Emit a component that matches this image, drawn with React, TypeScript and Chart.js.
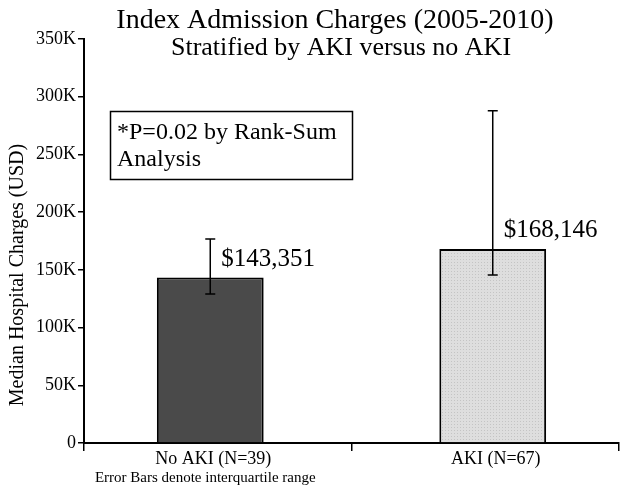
import React, { useEffect, useRef } from "react";
import { Chart, registerables } from "chart.js";

Chart.register(...registerables);

const categories = ["No AKI (N=39)", "AKI (N=67)"];
const medians = [143351, 168146];
const q1Values = [129000, 145500];
const q3Values = [176700, 287900];
const yTickValues = [0, 50000, 100000, 150000, 200000, 250000, 300000, 350000];
const titleText = "Index Admission Charges (2005-2010)";
const subtitleText = "Stratified by AKI versus no AKI";
const yAxisTitle = "Median Hospital Charges (USD)";
const noteText = "Error Bars denote interquartile range";
const annotationLines = ["*P=0.02 by Rank-Sum", "Analysis"];

const SERIF = "'Liberation Serif', 'DejaVu Serif', serif";

function makePattern(): CanvasPattern | string {
  const c = document.createElement("canvas");
  c.width = 3;
  c.height = 3;
  const ctx = c.getContext("2d");
  if (!ctx) return "#d9d9d9";
  ctx.fillStyle = "#dedede";
  ctx.fillRect(0, 0, 3, 3);
  ctx.fillStyle = "#c4c4c4";
  ctx.fillRect(1, 1, 1, 1);
  const p = ctx.createPattern(c, "repeat");
  return p || "#d9d9d9";
}

// one dataset per category so each bar sits slightly off the category centre, as in the reference
function seriesFor(i: number) {
  return medians.map((v, j) => (j === i ? v : null));
}

const overlayPlugin = {
  id: "overlay",
  afterDatasetsDraw(chart: any) {
    const ctx = chart.ctx;
    const y = chart.scales.y;
    const bars = categories.map((_, i) => chart.getDatasetMeta(i).data[i]);
    ctx.save();
    // error bars
    ctx.strokeStyle = "#000";
    ctx.lineWidth = 1.5;
    bars.forEach((bar: any, i: number) => {
      const x = bar.x;
      const yt = y.getPixelForValue(q3Values[i]);
      const yb = y.getPixelForValue(q1Values[i]);
      ctx.beginPath();
      ctx.moveTo(x, yt);
      ctx.lineTo(x, yb);
      ctx.moveTo(x - 5, yt);
      ctx.lineTo(x + 5, yt);
      ctx.moveTo(x - 5, yb);
      ctx.lineTo(x + 5, yb);
      ctx.stroke();
    });
    // value labels
    ctx.fillStyle = "#000";
    ctx.font = `25px ${SERIF}`;
    ctx.textAlign = "left";
    ctx.textBaseline = "middle";
    bars.forEach((bar: any, i: number) => {
      ctx.fillText("$" + medians[i].toLocaleString("en-US"), bar.x + 11, bar.y - 18);
    });
    // category labels
    ctx.textAlign = "center";
    ctx.font = `18px ${SERIF}`;
    bars.forEach((bar: any, i: number) => {
      ctx.fillText(categories[i], bar.x + 3, 459);
    });
    // note under first category
    ctx.font = `15px ${SERIF}`;
    ctx.fillText(noteText, bars[0].x - 5, 478);
    // titles
    ctx.font = `28px ${SERIF}`;
    ctx.fillText(titleText, 335, 21);
    ctx.font = `26px ${SERIF}`;
    ctx.fillText(subtitleText, 341, 48);
    // y-axis title
    ctx.save();
    ctx.translate(18, 275);
    ctx.rotate(-Math.PI / 2);
    ctx.font = `20px ${SERIF}`;
    ctx.fillText(yAxisTitle, 0, 0);
    ctx.restore();
    // annotation box
    ctx.lineWidth = 1.5;
    ctx.strokeRect(110.5, 111.5, 242, 68);
    ctx.textAlign = "left";
    ctx.font = `24px ${SERIF}`;
    ctx.fillText(annotationLines[0], 117, 133);
    ctx.fillText(annotationLines[1], 117, 160);
    ctx.restore();
  },
};

export default function App() {
  const ref = useRef<HTMLCanvasElement>(null);
  useEffect(() => {
    if (!ref.current) return;
    const pattern = makePattern();
    const chart = new Chart(ref.current, {
      type: "bar",
      data: {
        labels: categories,
        datasets: [
          {
            data: seriesFor(0),
            backgroundColor: "#4a4a4a",
            borderColor: "#000",
            borderWidth: 2,
            barPercentage: 7.13,
            categoryPercentage: 0.112,
          },
          {
            data: seriesFor(1),
            backgroundColor: pattern as any,
            borderColor: "#000",
            borderWidth: 2,
            barPercentage: 7.13,
            categoryPercentage: 0.112,
          },
        ],
      },
      options: {
        animation: false,
        responsive: false,
        maintainAspectRatio: false,
        layout: { padding: { top: 39, right: 10, left: 0, bottom: 0 } },
        plugins: {
          legend: { display: false },
          tooltip: { enabled: false },
          title: { display: false },
        },
        scales: {
          x: {
            offset: true,
            grid: {
              offset: true,
              drawOnChartArea: false,
              drawTicks: true,
              tickLength: 8,
              color: "#000",
              lineWidth: 1.5,
            },
            border: { display: true, color: "#000", width: 2 },
            ticks: { display: false },
            afterFit: (s: any) => {
              s.height = 52;
            },
          },
          y: {
            min: 0,
            max: 350000,
            afterBuildTicks: (s: any) => {
              s.ticks = yTickValues.map((v) => ({ value: v }));
            },
            grid: {
              drawOnChartArea: false,
              drawTicks: true,
              tickLength: 6,
              color: "#000",
              lineWidth: 1.5,
            },
            border: { display: true, color: "#000", width: 2 },
            ticks: {
              color: "#000",
              font: { family: SERIF, size: 18 },
              padding: 2,
              callback: (v: any) => (v === 0 ? "0" : v / 1000 + "K"),
            },
            afterFit: (s: any) => {
              s.width = 84;
            },
          },
        },
      },
      plugins: [overlayPlugin],
    });
    return () => chart.destroy();
  }, []);
  return (
    <div style={{ position: "fixed", left: 0, top: 0, width: 629, height: 495, background: "#fff" }}>
      <canvas ref={ref} width={629} height={495} style={{ width: 629, height: 495 }} />
    </div>
  );
}
